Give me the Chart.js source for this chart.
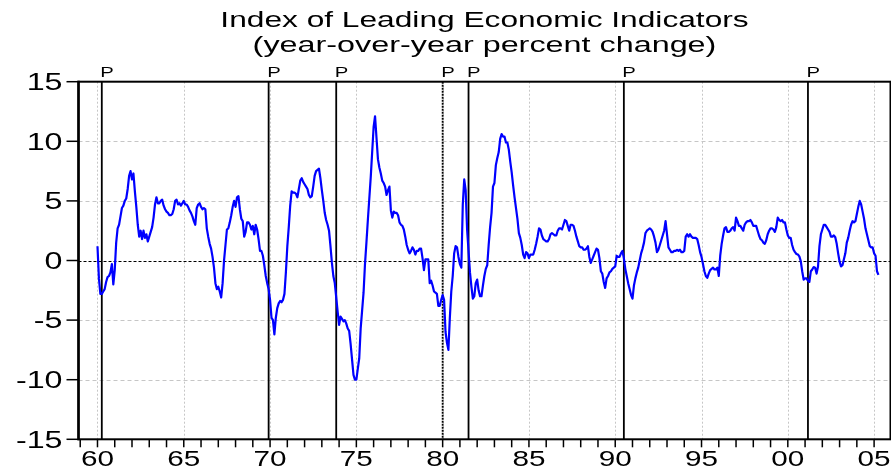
<!DOCTYPE html>
<html><head><meta charset="utf-8">
<script src="https://cdn.jsdelivr.net/npm/chart.js@4.4.1/dist/chart.umd.min.js"></script>
<style>html,body{margin:0;padding:0;background:#fff;overflow:hidden}</style>
</head><body>
<canvas id="c" width="891" height="471" style="width:891px;height:471px;display:block"></canvas>
<script>
// ---- text ----
const titleLines = ['Index of Leading Economic Indicators', '(year-over-year percent change)'];
const yTickValues = [15, 10, 5, 0, -5, -10, -15];
const xTickYears = [1960, 1965, 1970, 1975, 1980, 1985, 1990, 1995, 2000, 2005];
const xTickLabels = ['60', '65', '70', '75', '80', '85', '90', '95', '00', '05'];
const peakDates = [1960.25, 1969.917, 1973.833, 1980.0, 1981.5, 1990.5, 2001.167];
const peakLabel = 'P';
const firstYear = 1960;

// ---- monthly year-over-year % change, Jan 1960 onward ----
const lei1960s = [
  1.2, -1.5, -2.8, -2.8, -2.6, -2.4, -1.8, -1.4, -1.3, -1.0, -0.3, -2.0,
  -0.8, 1.5, 2.7, 3.0, 3.7, 4.4, 4.6, 5.0, 5.2, 6.0, 7.1, 7.5,
  6.8, 7.3, 5.8, 4.5, 3.0, 2.0, 2.5, 1.8, 2.5, 1.9, 2.2, 1.6,
  2.0, 2.4, 2.8, 3.6, 4.7, 5.3, 4.8, 4.8, 5.0, 5.1, 4.6, 4.3,
  4.1, 4.0, 3.8, 3.8, 3.9, 4.3, 5.0, 5.1, 4.7, 4.8, 4.6, 4.8,
  5.0, 4.7, 4.7, 4.5, 4.2, 4.0, 3.7, 3.3, 3.0, 4.4, 4.7, 4.8,
  4.5, 4.3, 4.4, 4.3, 2.7, 2.0, 1.4, 1.0, 0.3, -0.6, -1.9, -2.4,
  -2.2, -2.6, -3.1, -1.9, 0.0, 1.3, 2.6, 2.7, 3.2, 3.8, 4.5, 5.0,
  4.5, 5.3, 5.4, 4.3, 3.5, 3.3, 2.0, 2.4, 3.2, 3.2, 3.0, 2.6,
  2.9, 2.2, 3.0, 2.6, 1.8, 0.8, 0.8, 0.4, -0.4, -1.3, -1.9, -2.4
];
const lei1970s = [
  -3.3, -4.8, -5.0, -6.2, -4.8, -4.0, -3.6, -3.4, -3.5, -3.3, -2.8, -1.0,
  1.2, 2.8, 4.6, 5.8, 5.7, 5.7, 5.6, 5.3, 6.0, 6.7, 6.9, 6.6,
  6.4, 6.2, 6.0, 5.5, 5.3, 5.4, 6.2, 7.1, 7.5, 7.6, 7.7, 6.9,
  5.9, 5.0, 4.0, 3.4, 3.0, 2.5, 1.2, -0.2, -1.3, -1.9, -3.1, -4.3,
  -5.4, -4.7, -4.9, -5.1, -5.0, -5.3, -5.7, -5.9, -7.0, -8.3, -9.6, -10.0,
  -10.0, -9.1, -8.2, -5.7, -4.2, -2.7, -0.3, 1.5, 3.4, 5.2, 7.0, 9.1,
  11.2, 12.1, 10.3, 8.5, 7.8, 7.3, 6.7, 6.5, 6.2, 5.5, 5.9, 6.2,
  4.2, 3.6, 4.1, 4.0, 4.0, 3.8, 3.2, 3.0, 2.9, 2.6, 2.0, 1.3,
  0.9, 0.6, 0.8, 1.1, 0.9, 0.5, 0.8, 0.8, 1.0, 1.0, 0.2, -0.8,
  0.1, 0.1, 0.1, -1.9, -1.7, -2.1, -2.6, -2.7, -2.8, -3.8, -3.8, -3.3
];
const lei1980s = [
  -2.9, -3.3, -6.0, -6.9, -7.5, -4.8, -2.6, -1.3, 0.6, 1.2, 1.1, 0.3,
  -0.3, -0.6, 4.7, 6.8, 5.9, 2.6, 0.8, -1.0, -2.2, -3.2, -3.0, -1.9,
  -1.6, -2.5, -3.0, -3.0, -2.1, -1.3, -0.7, -0.4, 1.3, 2.8, 4.0, 6.2,
  6.5, 8.0, 8.6, 9.1, 10.2, 10.6, 10.4, 10.4, 9.9, 9.9, 9.3, 8.3,
  7.4, 6.3, 5.3, 4.4, 3.5, 2.3, 1.9, 1.3, 0.5, 0.2, 0.7, 0.6,
  0.2, 0.5, 0.5, 0.5, 0.9, 1.4, 2.0, 2.7, 2.6, 2.1, 1.8, 1.7,
  1.6, 1.6, 1.8, 2.2, 2.3, 2.2, 2.1, 2.1, 2.5, 2.7, 2.7, 2.6,
  3.0, 3.4, 3.3, 2.9, 2.5, 3.0, 3.0, 2.9, 2.5, 2.0, 1.6, 1.2,
  1.1, 1.1, 0.9, 0.9, 1.0, 1.2, 0.3, -0.2, 0.1, 0.4, 0.7, 1.0,
  0.9, 0.2, -0.9, -1.1, -1.8, -2.3, -1.5, -1.3, -1.0, -0.9, -0.7, -0.6
];
const lei1990s = [
  -0.5, 0.4, 0.3, 0.3, 0.6, 0.8, 0.2, -0.7, -1.3, -1.9, -2.4, -2.9,
  -3.2, -2.1, -1.5, -1.0, -0.6, 0.0, 0.6, 1.0, 1.5, 2.3, 2.5, 2.6,
  2.7, 2.6, 2.4, 2.0, 1.5, 0.7, 0.9, 1.3, 1.7, 2.1, 2.5, 3.3,
  2.2, 1.1, 0.9, 0.7, 0.7, 0.8, 0.8, 0.9, 0.8, 0.9, 0.7, 0.7,
  0.8, 2.0, 2.2, 2.0, 2.2, 2.0, 1.9, 1.9, 1.9, 1.8, 1.3, 0.7,
  0.3, -0.3, -0.9, -1.3, -1.45, -1.1, -0.8, -0.7, -0.6, -0.75, -0.75, -0.6,
  -1.3, 0.4, 1.4, 2.1, 2.7, 2.8, 2.4, 2.4, 2.5, 2.7, 2.8, 2.5,
  3.6, 3.3, 2.9, 2.9, 2.7, 2.5, 3.0, 3.2, 3.3, 3.3, 3.4, 3.2,
  2.9, 2.9, 2.9, 2.5, 2.1, 1.8, 1.7, 1.5, 1.4, 1.7, 2.2, 2.5,
  2.7, 2.7, 2.6, 2.4, 2.8, 3.6, 3.4, 3.3, 3.4, 3.2, 3.2, 2.6
];
const lei2000s = [
  2.1, 1.9, 1.9, 1.3, 0.9, 0.7, 0.55, 0.5, 0.35, -0.05, -0.9, -1.6,
  -1.5, -1.5, -1.7, -1.8, -0.9, -0.75, -0.55, -0.6, -1.1, -0.5, 1.2, 2.2,
  2.6, 3.0, 3.0, 2.8, 2.6, 2.4, 2.0, 2.0, 2.1, 1.95, 1.4, 0.6,
  -0.1, -0.5, -0.4, 0.1, 0.6, 1.5, 1.9, 2.5, 3.0, 3.3, 3.2, 3.3,
  3.9, 4.5, 5.0, 4.7, 4.1, 3.5, 2.7, 2.2, 1.7, 1.2, 1.1, 1.1,
  0.6, 0.4, -0.9, -1.2
];

const allValues = [].concat(lei1960s, lei1970s, lei1980s, lei1990s, lei2000s);
const points = allValues.map((v, i) => ({ x: firstYear + i / 12, y: v }));

const FONT = '"Liberation Sans", Arial, sans-serif';
function stretchText(ctx, str, x, y, size, sx, align) {
  ctx.save();
  ctx.font = size + 'px ' + FONT;
  ctx.textBaseline = 'alphabetic';
  const w = ctx.measureText(str).width * sx;
  let left = x;
  if (align === 'center') left = x - w / 2;
  else if (align === 'right') left = x - w;
  ctx.translate(left, y);
  ctx.scale(sx, 1);
  ctx.textAlign = 'left';
  ctx.fillStyle = '#000';
  ctx.fillText(str, 0, 0);
  ctx.restore();
}

const decor = {
  id: 'decor',
  beforeDatasetsDraw(chart) {
    const { ctx, chartArea: a, scales: { x, y } } = chart;
    ctx.save();
    // horizontal grid
    ctx.lineWidth = 1;
    ctx.strokeStyle = '#c6c6c6';
    ctx.setLineDash([4, 3]);
    yTickValues.forEach(v => {
      if (v === 0 || v === 15 || v === -15) return;
      const py = Math.round(y.getPixelForValue(v)) + 0.5;
      ctx.beginPath(); ctx.moveTo(a.left, py); ctx.lineTo(a.right, py); ctx.stroke();
    });
    // vertical grid
    ctx.setLineDash([2, 2]);
    xTickYears.forEach(yr => {
      const px = Math.round(x.getPixelForValue(yr)) + 0.5;
      ctx.beginPath(); ctx.moveTo(px, a.top); ctx.lineTo(px, a.bottom); ctx.stroke();
    });
    // zero line
    ctx.strokeStyle = '#000';
    ctx.setLineDash([3, 2]);
    const zy = Math.round(y.getPixelForValue(0)) + 0.5;
    ctx.beginPath(); ctx.moveTo(a.left, zy); ctx.lineTo(a.right, zy); ctx.stroke();
    // peak lines
    peakDates.forEach(d => {
      const onGrid = xTickYears.some(g => Math.abs(g - d) < 0.05);
      ctx.setLineDash(onGrid ? [2, 1] : []);
      ctx.lineWidth = 1.8;
      const px = x.getPixelForValue(d);
      ctx.beginPath(); ctx.moveTo(px, a.top); ctx.lineTo(px, a.bottom); ctx.stroke();
    });
    ctx.restore();
  },
  afterDatasetsDraw(chart) {
    const { ctx, chartArea: a, scales: { x, y } } = chart;
    ctx.save();
    ctx.setLineDash([]);
    ctx.strokeStyle = '#000';
    // frame
    ctx.lineWidth = 2;
    ctx.strokeRect(a.left, a.top, a.right - a.left, a.bottom - a.top);
    ctx.lineWidth = 2.5;
    ctx.beginPath(); ctx.moveTo(a.left, a.top - 1); ctx.lineTo(a.left, a.bottom + 1); ctx.stroke();
    // y ticks
    ctx.lineWidth = 1.5;
    yTickValues.forEach(v => {
      const py = y.getPixelForValue(v);
      ctx.beginPath(); ctx.moveTo(a.left - 12, py); ctx.lineTo(a.left, py); ctx.stroke();
    });
    // x ticks every year
    for (let yr = Math.ceil(x.min); yr <= x.max; yr++) {
      const px = x.getPixelForValue(yr);
      ctx.beginPath(); ctx.moveTo(px, a.bottom); ctx.lineTo(px, a.bottom + 8); ctx.stroke();
    }
    ctx.restore();
    // labels
    yTickValues.forEach(v => {
      stretchText(ctx, String(v), a.left - 16, y.getPixelForValue(v) + 8.3, 23, 1.4, 'right');
    });
    xTickYears.forEach((yr, i) => {
      stretchText(ctx, xTickLabels[i], x.getPixelForValue(yr), 466, 22, 1.35, 'center');
    });
    peakDates.forEach(d => {
      stretchText(ctx, peakLabel, x.getPixelForValue(d) - 1.5, 76.5, 14, 1.45, 'left');
    });
    const cx = (a.left + a.right) / 2;
    stretchText(ctx, titleLines[0], cx, 27, 22, 1.44, 'center');
    stretchText(ctx, titleLines[1], cx, 52, 22, 1.47, 'center');
  }
};

new Chart(document.getElementById('c'), {
  type: 'line',
  data: {
    datasets: [{
      data: points,
      borderColor: '#0000ff',
      borderWidth: 2.2,
      pointRadius: 0,
      tension: 0,
      fill: false,
      borderJoinStyle: 'round'
    }]
  },
  options: {
    responsive: false,
    animation: false,
    devicePixelRatio: 1,
    parsing: false,
    layout: { padding: { left: 78.5, right: 0.5, top: 81.7, bottom: 31.7 } },
    plugins: { legend: { display: false }, tooltip: { enabled: false }, title: { display: false } },
    scales: {
      x: { type: 'linear', display: false, min: 1958.9, max: 2005.95 },
      y: { type: 'linear', display: false, min: -15, max: 15 }
    }
  },
  plugins: [decor]
});
</script>
</body></html>
